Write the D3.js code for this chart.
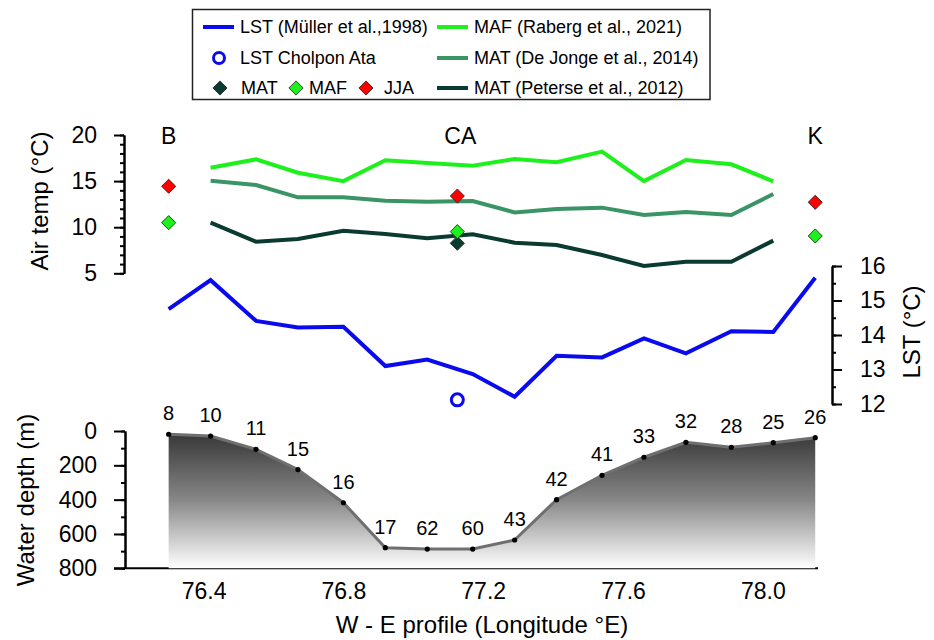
<!DOCTYPE html>
<html>
<head>
<meta charset="utf-8">
<script src="https://cdn.jsdelivr.net/npm/d3@7"></script>
<style>
  body { margin: 0; background: #fff; }
  svg { font-family: "Liberation Sans", Arial, sans-serif; }
  .axis path, .axis line { stroke: #000; stroke-width: 2; }
  .axis text { fill: #000; }
</style>
</head>
<body>
<div id="chart"></div>
<script>
// station longitudes along the W-E transect
var stationLon = [76.30, 76.42, 76.55, 76.67, 76.80, 76.92, 77.04, 77.17,
                  77.29, 77.41, 77.54, 77.66, 77.78, 77.91, 78.03, 78.15];
var lst = [14.75, 15.59, 14.41, 14.22, 14.24, 13.10, 13.29, 12.87,
           12.21, 13.40, 13.35, 13.90, 13.47, 14.11, 14.09, 15.66];
// stations 2..15
var mafRaberg = [16.45, 17.36, 15.91, 15.00, 17.26, 16.96, 16.67, 17.40, 17.04, 18.20, 15.00, 17.29, 16.82, 14.98];
var matDeJonge = [15.04, 14.58, 13.24, 13.24, 12.88, 12.77, 12.84, 11.60, 11.97, 12.12, 11.32, 11.65, 11.32, 13.60];
var matPeterse = [10.50, 8.43, 8.72, 9.62, 9.26, 8.79, 9.23, 8.32, 8.07, 6.98, 5.79, 6.26, 6.26, 8.54];

var depth = [19, 29, 107, 225, 418, 680, 688, 688, 635, 400, 258, 153, 66, 95, 68, 39];
var depthLabels = ["8", "10", "11", "15", "16", "17", "62", "60", "43", "42", "41", "33", "32", "28", "25", "26"];

// weather stations
var sites = ["B", "CA", "K"];
var siteLon = [76.30, 77.126, 78.15];
var siteJJA = [14.44, 13.38, 12.70];
var siteMAF = [10.49, 9.52, 9.05];
var siteMAT = [null, 8.26, null];
var cholponLon = 77.126, cholponLST = 12.12;

var xTicks = [76.4, 76.8, 77.2, 77.6, 78.0];
var tempTicks = [5, 10, 15, 20];
var lstTicks = [12, 13, 14, 15, 16];
var depthTicks = [0, 200, 400, 600, 800];

var col = {lst: "#0a0aee", maf: "#1ef01e", dj: "#3a9466", pet: "#0b3a31", jja: "#ff0000"};

var W = 934, H = 640;
var svg = d3.select("#chart").append("svg")
            .attr("width", W).attr("height", H);

var x = d3.scaleLinear().domain([76.4, 78.0]).range([203.6, 762.8]);
var yT = d3.scaleLinear().domain([5, 20]).range([273.3, 135]);
var yL = d3.scaleLinear().domain([12, 16]).range([404, 266]);
var yD = d3.scaleLinear().domain([0, 800]).range([431, 568.3]);

// ---- axes ----
function minorAxis(axis, ticks, size) {
	return axis.tickValues(ticks).tickSize(size).tickSizeOuter(0).tickFormat("");
}

svg.append("g").attr("class", "axis").attr("transform", "translate(124,0)")
   .call(minorAxis(d3.axisLeft(yT), d3.range(5, 21, 1), 4));
svg.append("g").attr("class", "axis").attr("transform", "translate(124,0)")
   .call(d3.axisLeft(yT).tickValues(tempTicks).tickSize(10).tickSizeOuter(0).tickPadding(17))
   .selectAll("text").style("font-size", "23px");

svg.append("g").attr("class", "axis").attr("transform", "translate(832,0)")
   .call(minorAxis(d3.axisRight(yL), d3.range(12, 16.01, 0.5), 4));
svg.append("g").attr("class", "axis").attr("transform", "translate(832,0)")
   .call(d3.axisRight(yL).tickValues(lstTicks).tickSize(10).tickSizeOuter(0).tickPadding(18)
           .tickFormat(d3.format("d")))
   .selectAll("text").style("font-size", "23px");

svg.append("g").attr("class", "axis").attr("transform", "translate(125,0)")
   .call(minorAxis(d3.axisLeft(yD), d3.range(0, 801, 100), 4));
svg.append("g").attr("class", "axis").attr("transform", "translate(125,0)")
   .call(d3.axisLeft(yD).tickValues(depthTicks).tickSize(11).tickSizeOuter(0).tickPadding(17))
   .selectAll("text").style("font-size", "23px");

// bottom longitude axis (no tick marks)
var xAxisG = svg.append("g").attr("class", "axis").attr("transform", "translate(0,568.3)")
   .call(d3.axisBottom(x).tickValues(xTicks).tickSize(0).tickPadding(14).tickFormat(d3.format(".1f")));
xAxisG.select(".domain").attr("d", "M114,0H818");
xAxisG.selectAll("text").style("font-size", "23px");

// axis titles
svg.append("text").attr("transform", "translate(48,201) rotate(-90)")
   .attr("text-anchor", "middle").style("font-size", "24px").text("Air temp (°C)");
svg.append("text").attr("transform", "translate(34,500) rotate(-90)")
   .attr("text-anchor", "middle").style("font-size", "24px").text("Water depth (m)");
svg.append("text").attr("transform", "translate(920,332) rotate(-90)")
   .attr("text-anchor", "middle").style("font-size", "24px").text("LST (°C)");
svg.append("text").attr("x", 482).attr("y", 633)
   .attr("text-anchor", "middle").style("font-size", "24px").text("W - E profile (Longitude °E)");

// ---- bathymetry ----
var grad = svg.append("defs").append("linearGradient").attr("id", "depthGrad")
   .attr("gradientUnits", "userSpaceOnUse")
   .attr("x1", 0).attr("x2", 0).attr("y1", yD(0)).attr("y2", yD(800));
grad.append("stop").attr("offset", "0%").attr("stop-color", "#343434");
grad.append("stop").attr("offset", "50%").attr("stop-color", "#878787");
grad.append("stop").attr("offset", "100%").attr("stop-color", "#ffffff");

var depthData = stationLon.map((d, i) => ({lon: d, depth: depth[i], label: depthLabels[i]}));

svg.append("path").datum(depthData)
   .attr("fill", "url(#depthGrad)")
   .attr("d", d3.area().x(d => x(d.lon)).y0(yD(800)).y1(d => yD(d.depth)));
svg.append("path").datum(depthData)
   .attr("fill", "none").attr("stroke", "#6f6f6f").attr("stroke-width", 3)
   .attr("d", d3.line().x(d => x(d.lon)).y(d => yD(d.depth)));
svg.selectAll(".dpt").data(depthData).enter().append("circle")
   .attr("cx", d => x(d.lon)).attr("cy", d => yD(d.depth)).attr("r", 2.6).attr("fill", "#000");
svg.selectAll(".dlab").data(depthData).enter().append("text")
   .attr("x", d => x(d.lon)).attr("y", d => yD(d.depth) - 14)
   .attr("text-anchor", "middle").style("font-size", "20px").text(d => d.label);

// ---- temperature lines ----
var lineT = d3.line().x(d => x(d[0])).y(d => yT(d[1]));
var inner = stationLon.slice(1, 15);
[[matPeterse, col.pet], [matDeJonge, col.dj], [mafRaberg, col.maf]].forEach(function(s) {
	svg.append("path").datum(inner.map((d, i) => [d, s[0][i]]))
	   .attr("fill", "none").attr("stroke", s[1]).attr("stroke-width", 4)
	   .attr("d", lineT);
});

svg.append("path").datum(stationLon.map((d, i) => [d, lst[i]]))
   .attr("fill", "none").attr("stroke", col.lst).attr("stroke-width", 4)
   .attr("d", d3.line().x(d => x(d[0])).y(d => yL(d[1])));

svg.append("circle").attr("cx", x(cholponLon)).attr("cy", yL(cholponLST)).attr("r", 6)
   .attr("fill", "#fff").attr("stroke", col.lst).attr("stroke-width", 3);

// site diamonds
var diamond = d3.symbol().type(d3.symbolSquare).size(100);
function diamonds(vals, fill) {
	svg.selectAll(null).data(sites.map((s, i) => [siteLon[i], vals[i]]).filter(d => d[1] != null))
	   .enter().append("path")
	   .attr("d", diamond)
	   .attr("transform", d => "translate(" + x(d[0]) + "," + yT(d[1]) + ") rotate(45)")
	   .attr("fill", fill).attr("stroke", "#222").attr("stroke-width", 0.8);
}
diamonds(siteMAT, col.pet);
diamonds(siteMAF, col.maf);
diamonds(siteJJA, col.jja);

svg.selectAll(".site").data(sites).enter().append("text")
   .attr("x", (d, i) => x(siteLon[i]) + (i == 1 ? 3 : 0)).attr("y", 144)
   .attr("text-anchor", "middle").style("font-size", "23px").text(d => d);

// ---- legend ----
var lg = svg.append("g");
lg.append("rect").attr("x", 192.5).attr("y", 9.5).attr("width", 517.5).attr("height", 90)
  .attr("fill", "#fff").attr("stroke", "#222").attr("stroke-width", 1.5);

var legLines = [
	{x: 203, y: 27, c: col.lst, t: "LST (Müller et al.,1998)"},
	{x: 437, y: 27, c: col.maf, t: "MAF (Raberg et al., 2021)"},
	{x: 437, y: 58, c: col.dj, t: "MAT (De Jonge et al., 2014)"},
	{x: 437, y: 88, c: col.pet, t: "MAT (Peterse et al., 2012)"}
];
legLines.forEach(function(d) {
	lg.append("line").attr("x1", d.x).attr("x2", d.x + 31).attr("y1", d.y).attr("y2", d.y)
	  .attr("stroke", d.c).attr("stroke-width", 4);
	lg.append("text").attr("x", d.x + 37).attr("y", d.y).attr("dy", "0.35em")
	  .style("font-size", "18px").text(d.t);
});
lg.append("circle").attr("cx", 219).attr("cy", 58).attr("r", 5.5)
  .attr("fill", "#fff").attr("stroke", col.lst).attr("stroke-width", 3);
lg.append("text").attr("x", 240).attr("y", 58).attr("dy", "0.35em")
  .style("font-size", "18px").text("LST Cholpon Ata");

[{x: 220, c: col.pet, t: "MAT", tx: 241}, {x: 296, c: col.maf, t: "MAF", tx: 309},
 {x: 366, c: col.jja, t: "JJA", tx: 384}].forEach(function(d) {
	lg.append("path").attr("d", diamond)
	  .attr("transform", "translate(" + d.x + ",88) rotate(45)")
	  .attr("fill", d.c).attr("stroke", "#222").attr("stroke-width", 0.8);
	lg.append("text").attr("x", d.tx).attr("y", 88).attr("dy", "0.35em")
	  .style("font-size", "18px").text(d.t);
});
</script>
</body>
</html>
